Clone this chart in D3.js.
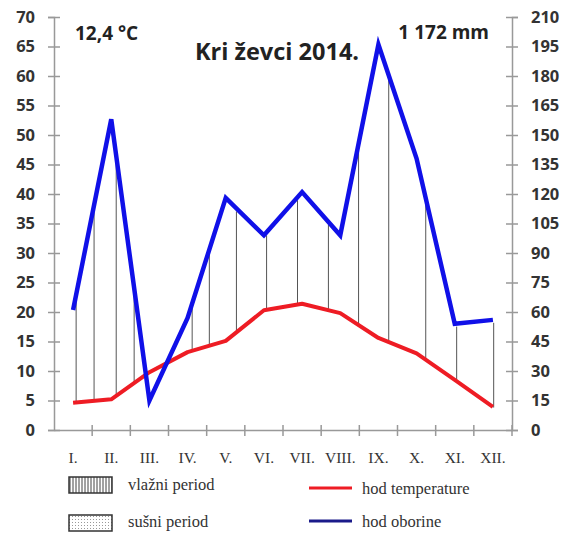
<!DOCTYPE html>
<html><head><meta charset="utf-8">
<script src="https://cdn.jsdelivr.net/npm/d3@7"></script>
<style>body{margin:0;background:#fff}</style>
</head><body>
<svg id="c" width="568" height="538"></svg>
<script>
const months = ["I.","II.","III.","IV.","V.","VI.","VII.","VIII.","IX.","X.","XI.","XII."];
const temperature = [4.6,5.2,9.8,13.2,15.1,20.3,21.4,19.8,15.6,13.0,8.5,3.9];
const precipitation = [61,158,15,57,118,99,121,99,196,138,54,56];
const tempTicks = d3.range(0,71,5);
const precTicks = d3.range(0,211,15);
// positions of humid-period hatch lines, in month-index units
const hatchPos = [0.08,0.55,1.13,1.6,3.12,3.57,4.28,5.07,5.88,6.69,7.48,8.27,9.24,10.05,11.02];
const title = "Kri ževci 2014.";
const meanTemp = "12,4 °C";
const totalPrec = "1 172 mm";

const svg = d3.select("#c");
const L=54, R=512, T=17, B=430;
const x = d3.scaleBand().domain(months).range([L,R]);
const xi = d3.scaleLinear().domain([0,11]).range([x(months[0])+x.bandwidth()/2, x(months[11])+x.bandwidth()/2]);
const yT = d3.scaleLinear().domain([0,70]).range([B,T]);
const yP = d3.scaleLinear().domain([0,210]).range([B,T]);

// hatch lines
const interp = (arr, p) => { const i=Math.min(Math.floor(p),arr.length-2), f=p-i; return arr[i]+(arr[i+1]-arr[i])*f; };
svg.append("g").selectAll("line").data(hatchPos).join("line")
  .attr("x1", d=>xi(d)).attr("x2", d=>xi(d))
  .attr("y1", d=>yT(interp(temperature,d)))
  .attr("y2", d=>yP(interp(precipitation,d))+3)
  .attr("stroke","#555").attr("stroke-width",1);

const axisColor="#999";
const styleAxis = g => {
  g.select(".domain").attr("stroke",axisColor).attr("stroke-width",1.5);
  g.selectAll(".tick line").attr("stroke",axisColor).attr("stroke-width",1.5);
  g.selectAll("text").attr("fill","#333").style("font-family","'Open Sans',sans-serif").style("font-weight","700").style("font-size","16.5px");
};
// left axis
const gl = svg.append("g").attr("transform",`translate(${L},0)`)
  .call(d3.axisLeft(yT).tickValues(tempTicks).tickSizeOuter(0).tickSize(6).tickPadding(13));
gl.selectAll(".tick line").attr("x1",6);
styleAxis(gl);
// right axis
const gr = svg.append("g").attr("transform",`translate(${R},0)`)
  .call(d3.axisRight(yP).tickValues(precTicks).tickSizeOuter(0).tickSize(6).tickPadding(13));
gr.selectAll(".tick line").attr("x1",-6);
styleAxis(gr);
// bottom axis
const gb = svg.append("g").attr("transform",`translate(0,${B})`)
  .call(d3.axisBottom(x).tickSize(0).tickPadding(22).tickSizeOuter(0));
gb.select(".domain").attr("stroke",axisColor).attr("stroke-width",1.5);
gb.selectAll("text").attr("fill","#333").style("font-family","'Liberation Serif',serif").style("font-size","15.5px");
gb.selectAll(".bound").data(months.slice(1).concat(["end"])).join("line")
  .attr("x1",d=>d==="end"?R:x(d)).attr("x2",d=>d==="end"?R:x(d))
  .attr("y1",-5).attr("y2",6).attr("stroke",axisColor).attr("stroke-width",1.5);

// lines
svg.append("path").datum(temperature)
  .attr("d", d3.line().x((d,i)=>x(months[i])+x.bandwidth()/2).y(d=>yT(d)))
  .attr("fill","none").attr("stroke","#ee1c24").attr("stroke-width",4).attr("stroke-linejoin","round");
svg.append("path").datum(precipitation)
  .attr("d", d3.line().x((d,i)=>x(months[i])+x.bandwidth()/2).y(d=>yP(d)))
  .attr("fill","none").attr("stroke","#1010e8").attr("stroke-width",4.5).attr("stroke-linejoin","miter");

// texts
const bold = s => s.style("font-family","'Open Sans',sans-serif").style("font-weight","700").attr("fill","#222");
bold(svg.append("text").attr("x",75).attr("y",40).text(meanTemp).style("font-size","19px"));
bold(svg.append("text").attr("x",489).attr("y",39).attr("text-anchor","end").text(totalPrec).style("font-size","19px"));
bold(svg.append("text").attr("x",277).attr("y",60).attr("text-anchor","middle").text(title).style("font-size","23.5px"));

// legend patterns
const defs = svg.append("defs");
const pv = defs.append("pattern").attr("id","vl").attr("patternUnits","userSpaceOnUse").attr("width",3).attr("height",4);
pv.append("line").attr("x1",1).attr("x2",1).attr("y1",0).attr("y2",4).attr("stroke","#444").attr("stroke-width",1);
const pd = defs.append("pattern").attr("id","dt").attr("patternUnits","userSpaceOnUse").attr("width",3).attr("height",3);
pd.append("rect").attr("width",1).attr("height",1).attr("fill","#999");

const serif = s => s.style("font-family","'Liberation Serif',serif").style("font-size","16.5px").attr("fill","#333");
svg.append("rect").attr("x",69).attr("y",477).attr("width",43).attr("height",16).attr("fill","url(#vl)").attr("stroke","#333").attr("stroke-width",1.5);
svg.append("rect").attr("x",69).attr("y",515).attr("width",43).attr("height",16).attr("fill","url(#dt)").attr("stroke","#333").attr("stroke-width",1.5);
serif(svg.append("text").attr("x",128).attr("y",490).text("vlažni period"));
serif(svg.append("text").attr("x",128).attr("y",527).text("sušni period"));
svg.append("line").attr("x1",309).attr("x2",352).attr("y1",488).attr("y2",488).attr("stroke","#ee1c24").attr("stroke-width",3);
svg.append("line").attr("x1",309).attr("x2",352).attr("y1",521).attr("y2",521).attr("stroke","#1a1a8a").attr("stroke-width",3);
serif(svg.append("text").attr("x",362).attr("y",494).text("hod temperature"));
serif(svg.append("text").attr("x",362).attr("y",527).text("hod oborine"));
</script>
</body></html>
